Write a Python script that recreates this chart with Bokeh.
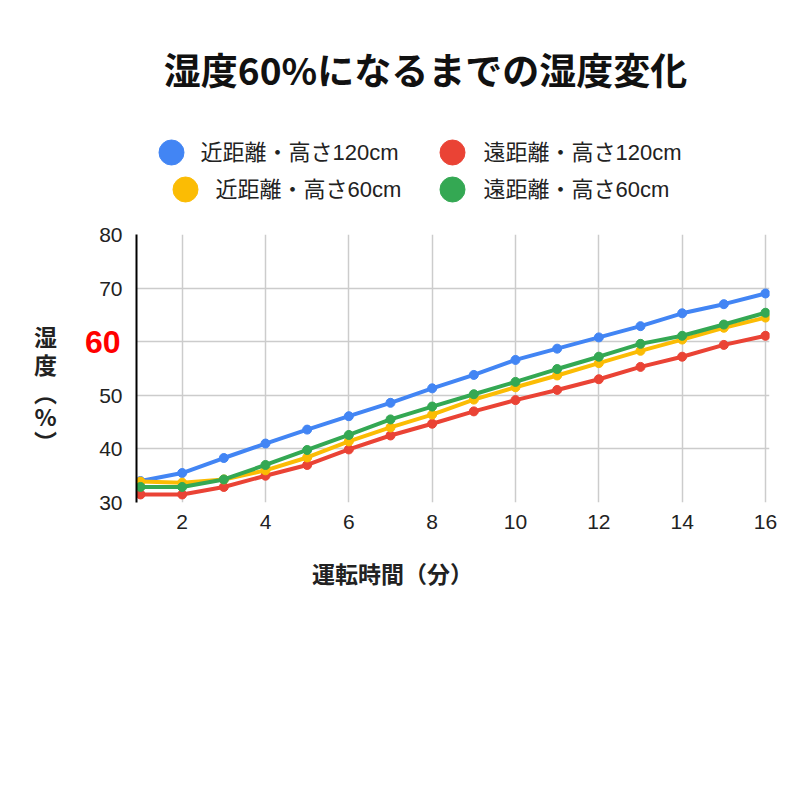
from bokeh.plotting import figure
from bokeh.models import FixedTicker, Range1d, LinearAxis
from bokeh.layouts import column, row
from bokeh.embed import file_html
from bokeh.resources import INLINE
from bokeh.core.properties import value

minutes = list(range(1, 17))
near_120 = [34.0, 35.5, 38.3, 41.0, 43.6, 46.1, 48.6, 51.3, 53.8, 56.6, 58.7, 60.8, 62.9, 65.3, 67.0, 69.0]
far_120 = [31.5, 31.5, 32.9, 35.0, 37.0, 39.9, 42.5, 44.7, 47.0, 49.1, 51.0, 53.0, 55.3, 57.2, 59.4, 61.1]
near_60 = [33.9, 33.7, 34.3, 36.0, 38.4, 41.4, 44.0, 46.4, 49.2, 51.5, 53.7, 56.0, 58.3, 60.4, 62.6, 64.5]
far_60 = [32.9, 32.9, 34.3, 37.0, 39.8, 42.6, 45.5, 47.9, 50.2, 52.5, 54.9, 57.2, 59.6, 61.1, 63.2, 65.4]

series_names = ["近距離・高さ120cm", "遠距離・高さ120cm", "近距離・高さ60cm", "遠距離・高さ60cm"]
series_values = [near_120, far_120, near_60, far_60]
series_colors = ["#4285F4", "#EA4335", "#FBBC04", "#34A853"]

x_ticks = [2, 4, 6, 8, 10, 12, 14, 16]
y_ticks = [30, 40, 50, 60, 70, 80]
highlight_tick = 60
title_text = "湿度60%になるまでの湿度変化"
y_label_chars = ["湿", "度", "︵", "%", "︶"]
x_label = "運転時間（分）"

FONT = "'Liberation Sans', 'Noto Sans CJK JP', sans-serif"
CJK = "'Noto Sans CJK JP', sans-serif"
TEXT_COL = "#222222"

W = 784
H_TOP = 220       # header height
ROW_BOTTOM = 555  # bottom of chart row
L_W = 70          # width of left label strip
FL, FT, FR, FB = 136, 234, 769, 502  # frame edges on page


def blank_fig(w, h, x0, x1, y_top, y_bottom, **kw):
    f = figure(width=w, height=h, x_range=Range1d(x0, x1), y_range=Range1d(y_bottom, y_top),
               min_border=0, output_backend="svg", toolbar_location=None, **kw)
    f.axis.visible = False
    f.grid.visible = False
    f.outline_line_color = None
    return f


# ---------- header: title + legend ----------
hdr = blank_fig(W, H_TOP, 0, W, 0, H_TOP)
hdr.text(x=[425], y=[68], text=[title_text], text_align="center", text_baseline="middle",
         text_font=value(CJK), text_font_size="37px", text_font_style="bold", text_color="#111111")
leg_cx = [171, 452, 185, 452]
leg_cy = [152, 152, 189, 189]
leg_tx = [200, 483, 215, 483]
hdr.scatter(x=leg_cx, y=leg_cy, size=25, color=series_colors)
hdr.text(x=leg_tx, y=leg_cy, text=series_names, text_align="left", text_baseline="middle",
         text_font=value(FONT), text_font_size="22px", text_color=TEXT_COL)

# ---------- left strip: vertical y-axis title (frame aligned with chart frame) ----------
lft = blank_fig(L_W, ROW_BOTTOM - H_TOP, 0, L_W, FT, FB)
lft.min_border_top = FT - H_TOP
lft.min_border_bottom = ROW_BOTTOM - FB
lft.text(x=[45] * 5, y=[335, 363, 391, 415, 440], text=y_label_chars, text_align="center",
         text_baseline="middle", text_font=value(CJK), text_font_size="23px",
         text_font_style="bold", text_color=TEXT_COL)

# ---------- main chart ----------
p = figure(
    frame_width=FR - FL, frame_height=FB - FT,
    min_border_left=FL - L_W, min_border_top=FT - H_TOP,
    min_border_right=W - FR, min_border_bottom=ROW_BOTTOM - FB,
    x_range=Range1d(0.904, 16.096), y_range=Range1d(30, 80),
    output_backend="svg", toolbar_location=None,
)
p.outline_line_color = None

p.yaxis.ticker = FixedTicker(ticks=y_ticks)
p.yaxis.major_label_overrides = {highlight_tick: " "}
p.yaxis.axis_line_color = "#000000"
p.yaxis.axis_line_width = 2
p.yaxis.major_tick_line_color = None
p.yaxis.minor_tick_line_color = None
p.yaxis.major_tick_in = 0
p.yaxis.major_tick_out = 0
p.yaxis.major_label_standoff = 14
p.yaxis.major_label_text_font_size = "21px"
p.yaxis.major_label_text_font = FONT
p.yaxis.major_label_text_color = TEXT_COL

# outer axis carrying only the highlighted red tick label
hl_axis = LinearAxis(ticker=FixedTicker(ticks=[highlight_tick]))
hl_axis.axis_line_color = None
hl_axis.major_tick_line_color = None
hl_axis.minor_tick_line_color = None
hl_axis.major_tick_in = 0
hl_axis.major_tick_out = 0
hl_axis.major_label_standoff = -24
hl_axis.major_label_text_font_size = "32px"
hl_axis.major_label_text_font_style = "bold"
hl_axis.major_label_text_font = FONT
hl_axis.major_label_text_color = "#ff0000"
p.add_layout(hl_axis, "left")

p.xaxis.ticker = FixedTicker(ticks=x_ticks)
p.xaxis.axis_line_color = None
p.xaxis.major_tick_line_color = None
p.xaxis.minor_tick_line_color = None
p.xaxis.major_tick_in = 0
p.xaxis.major_tick_out = 0
p.xaxis.major_label_standoff = 12
p.xaxis.major_label_text_font_size = "21px"
p.xaxis.major_label_text_font = FONT
p.xaxis.major_label_text_color = TEXT_COL

p.xgrid.ticker = FixedTicker(ticks=x_ticks)
p.ygrid.ticker = FixedTicker(ticks=y_ticks)
for g in (p.xgrid, p.ygrid):
    g.grid_line_color = "#cccccc"
    g.grid_line_width = 1.5

for vals, col in zip(series_values, series_colors):
    p.line(minutes, vals, line_color=col, line_width=4)
    p.scatter(minutes, vals, color=col, size=9)

# ---------- footer: x-axis title ----------
ftr = blank_fig(W, W - ROW_BOTTOM, 0, W, ROW_BOTTOM, W)
ftr.text(x=[392], y=[572], text=[x_label], text_align="center", text_baseline="middle",
         text_font=value(CJK), text_font_size="23px", text_font_style="bold", text_color=TEXT_COL)

layout = column(hdr, row(lft, p, spacing=0), ftr, spacing=0)
open("out.html", "w").write(file_html(layout, INLINE))
